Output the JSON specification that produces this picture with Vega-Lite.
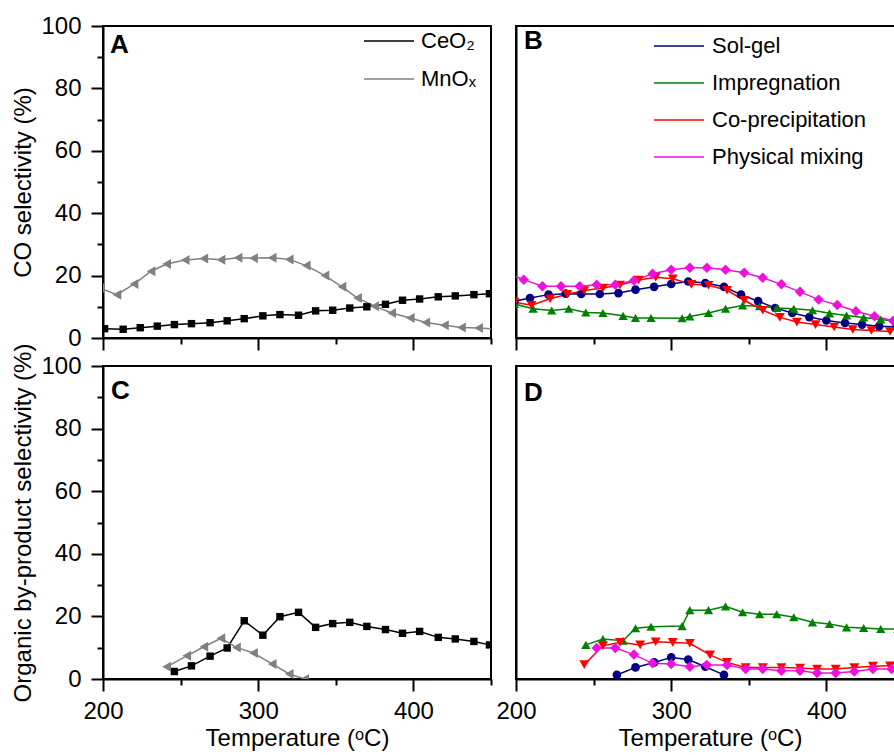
{
  "$schema": "https://vega.github.io/schema/vega-lite/v6.json",
  "padding": {"left": 10, "top": 13, "right": 0, "bottom": 0},
  "background": "white",
  "columns": 2,
  "spacing": {"row": 28, "column": 25},
  "bounds": "flush",
  "resolve": {
    "scale": {"color": "independent", "stroke": "independent", "shape": "independent", "size": "independent"},
    "legend": {"color": "independent", "stroke": "independent", "shape": "independent", "size": "independent"}
  },
  "datasets": {
    "sel": [
      {"panel": "A", "series": "CeO₂", "temp": 201, "sel": 3.0},
      {"panel": "A", "series": "CeO₂", "temp": 213, "sel": 2.8},
      {"panel": "A", "series": "CeO₂", "temp": 224, "sel": 3.3},
      {"panel": "A", "series": "CeO₂", "temp": 235, "sel": 3.8},
      {"panel": "A", "series": "CeO₂", "temp": 246, "sel": 4.3},
      {"panel": "A", "series": "CeO₂", "temp": 257, "sel": 4.6},
      {"panel": "A", "series": "CeO₂", "temp": 269, "sel": 4.9},
      {"panel": "A", "series": "CeO₂", "temp": 280, "sel": 5.5},
      {"panel": "A", "series": "CeO₂", "temp": 291, "sel": 6.2},
      {"panel": "A", "series": "CeO₂", "temp": 303, "sel": 7.1},
      {"panel": "A", "series": "CeO₂", "temp": 314, "sel": 7.5},
      {"panel": "A", "series": "CeO₂", "temp": 326, "sel": 7.3},
      {"panel": "A", "series": "CeO₂", "temp": 337, "sel": 8.7},
      {"panel": "A", "series": "CeO₂", "temp": 348, "sel": 8.9},
      {"panel": "A", "series": "CeO₂", "temp": 359, "sel": 9.6},
      {"panel": "A", "series": "CeO₂", "temp": 370, "sel": 10.0},
      {"panel": "A", "series": "CeO₂", "temp": 382, "sel": 10.8},
      {"panel": "A", "series": "CeO₂", "temp": 393, "sel": 12.1},
      {"panel": "A", "series": "CeO₂", "temp": 404, "sel": 12.5},
      {"panel": "A", "series": "CeO₂", "temp": 416, "sel": 13.2},
      {"panel": "A", "series": "CeO₂", "temp": 427, "sel": 13.5},
      {"panel": "A", "series": "CeO₂", "temp": 439, "sel": 13.9},
      {"panel": "A", "series": "CeO₂", "temp": 449, "sel": 14.2},
      {"panel": "A", "series": "MnOₓ", "temp": 198, "sel": 16.0},
      {"panel": "A", "series": "MnOₓ", "temp": 209, "sel": 13.9},
      {"panel": "A", "series": "MnOₓ", "temp": 220, "sel": 17.3},
      {"panel": "A", "series": "MnOₓ", "temp": 231, "sel": 21.4},
      {"panel": "A", "series": "MnOₓ", "temp": 241, "sel": 23.7},
      {"panel": "A", "series": "MnOₓ", "temp": 253, "sel": 25.0},
      {"panel": "A", "series": "MnOₓ", "temp": 265, "sel": 25.5},
      {"panel": "A", "series": "MnOₓ", "temp": 276, "sel": 25.1},
      {"panel": "A", "series": "MnOₓ", "temp": 287, "sel": 25.7},
      {"panel": "A", "series": "MnOₓ", "temp": 297, "sel": 25.6},
      {"panel": "A", "series": "MnOₓ", "temp": 309, "sel": 25.7},
      {"panel": "A", "series": "MnOₓ", "temp": 320, "sel": 25.2},
      {"panel": "A", "series": "MnOₓ", "temp": 331, "sel": 23.2},
      {"panel": "A", "series": "MnOₓ", "temp": 343, "sel": 20.0},
      {"panel": "A", "series": "MnOₓ", "temp": 354, "sel": 16.4},
      {"panel": "A", "series": "MnOₓ", "temp": 364, "sel": 12.8},
      {"panel": "A", "series": "MnOₓ", "temp": 375, "sel": 10.2},
      {"panel": "A", "series": "MnOₓ", "temp": 386, "sel": 8.0},
      {"panel": "A", "series": "MnOₓ", "temp": 398, "sel": 6.4},
      {"panel": "A", "series": "MnOₓ", "temp": 408, "sel": 5.0},
      {"panel": "A", "series": "MnOₓ", "temp": 420, "sel": 4.1},
      {"panel": "A", "series": "MnOₓ", "temp": 431, "sel": 3.4},
      {"panel": "A", "series": "MnOₓ", "temp": 442, "sel": 3.2},
      {"panel": "A", "series": "MnOₓ", "temp": 452, "sel": 2.9},

      {"panel": "B", "series": "Sol-gel", "temp": 199, "sel": 11.8},
      {"panel": "B", "series": "Sol-gel", "temp": 209, "sel": 12.8},
      {"panel": "B", "series": "Sol-gel", "temp": 221, "sel": 13.9},
      {"panel": "B", "series": "Sol-gel", "temp": 232, "sel": 14.2},
      {"panel": "B", "series": "Sol-gel", "temp": 242, "sel": 14.1},
      {"panel": "B", "series": "Sol-gel", "temp": 254, "sel": 14.1},
      {"panel": "B", "series": "Sol-gel", "temp": 266, "sel": 14.4},
      {"panel": "B", "series": "Sol-gel", "temp": 277, "sel": 15.5},
      {"panel": "B", "series": "Sol-gel", "temp": 289, "sel": 16.4},
      {"panel": "B", "series": "Sol-gel", "temp": 300, "sel": 17.3},
      {"panel": "B", "series": "Sol-gel", "temp": 311, "sel": 18.1},
      {"panel": "B", "series": "Sol-gel", "temp": 322, "sel": 17.6},
      {"panel": "B", "series": "Sol-gel", "temp": 334, "sel": 16.4},
      {"panel": "B", "series": "Sol-gel", "temp": 345, "sel": 13.9},
      {"panel": "B", "series": "Sol-gel", "temp": 356, "sel": 11.8},
      {"panel": "B", "series": "Sol-gel", "temp": 367, "sel": 9.6},
      {"panel": "B", "series": "Sol-gel", "temp": 378, "sel": 8.0},
      {"panel": "B", "series": "Sol-gel", "temp": 389, "sel": 6.7},
      {"panel": "B", "series": "Sol-gel", "temp": 400, "sel": 5.6},
      {"panel": "B", "series": "Sol-gel", "temp": 412, "sel": 4.8},
      {"panel": "B", "series": "Sol-gel", "temp": 423, "sel": 4.3},
      {"panel": "B", "series": "Sol-gel", "temp": 434, "sel": 3.8},
      {"panel": "B", "series": "Sol-gel", "temp": 445, "sel": 3.6},
      {"panel": "B", "series": "Impregnation", "temp": 199, "sel": 10.9},
      {"panel": "B", "series": "Impregnation", "temp": 211, "sel": 9.4},
      {"panel": "B", "series": "Impregnation", "temp": 223, "sel": 8.8},
      {"panel": "B", "series": "Impregnation", "temp": 234, "sel": 9.4},
      {"panel": "B", "series": "Impregnation", "temp": 245, "sel": 8.2},
      {"panel": "B", "series": "Impregnation", "temp": 256, "sel": 8.0},
      {"panel": "B", "series": "Impregnation", "temp": 269, "sel": 7.1},
      {"panel": "B", "series": "Impregnation", "temp": 277, "sel": 6.4},
      {"panel": "B", "series": "Impregnation", "temp": 287, "sel": 6.4},
      {"panel": "B", "series": "Impregnation", "temp": 307, "sel": 6.3},
      {"panel": "B", "series": "Impregnation", "temp": 312, "sel": 6.9},
      {"panel": "B", "series": "Impregnation", "temp": 324, "sel": 8.0},
      {"panel": "B", "series": "Impregnation", "temp": 335, "sel": 9.4},
      {"panel": "B", "series": "Impregnation", "temp": 346, "sel": 10.4},
      {"panel": "B", "series": "Impregnation", "temp": 357, "sel": 10.2},
      {"panel": "B", "series": "Impregnation", "temp": 368, "sel": 9.6},
      {"panel": "B", "series": "Impregnation", "temp": 379, "sel": 9.4},
      {"panel": "B", "series": "Impregnation", "temp": 391, "sel": 8.9},
      {"panel": "B", "series": "Impregnation", "temp": 402, "sel": 7.9},
      {"panel": "B", "series": "Impregnation", "temp": 413, "sel": 7.2},
      {"panel": "B", "series": "Impregnation", "temp": 424, "sel": 6.6},
      {"panel": "B", "series": "Impregnation", "temp": 435, "sel": 5.9},
      {"panel": "B", "series": "Impregnation", "temp": 446, "sel": 5.3},
      {"panel": "B", "series": "Co-precipitation", "temp": 199, "sel": 11.5},
      {"panel": "B", "series": "Co-precipitation", "temp": 210, "sel": 10.5},
      {"panel": "B", "series": "Co-precipitation", "temp": 222, "sel": 12.6},
      {"panel": "B", "series": "Co-precipitation", "temp": 233, "sel": 14.0},
      {"panel": "B", "series": "Co-precipitation", "temp": 244, "sel": 15.2},
      {"panel": "B", "series": "Co-precipitation", "temp": 256, "sel": 16.0},
      {"panel": "B", "series": "Co-precipitation", "temp": 267, "sel": 17.0},
      {"panel": "B", "series": "Co-precipitation", "temp": 279, "sel": 18.6},
      {"panel": "B", "series": "Co-precipitation", "temp": 290, "sel": 19.5},
      {"panel": "B", "series": "Co-precipitation", "temp": 301, "sel": 19.0},
      {"panel": "B", "series": "Co-precipitation", "temp": 313, "sel": 17.2},
      {"panel": "B", "series": "Co-precipitation", "temp": 324, "sel": 16.9},
      {"panel": "B", "series": "Co-precipitation", "temp": 336, "sel": 15.3},
      {"panel": "B", "series": "Co-precipitation", "temp": 347, "sel": 12.1},
      {"panel": "B", "series": "Co-precipitation", "temp": 359, "sel": 8.9},
      {"panel": "B", "series": "Co-precipitation", "temp": 370, "sel": 6.6},
      {"panel": "B", "series": "Co-precipitation", "temp": 381, "sel": 5.1},
      {"panel": "B", "series": "Co-precipitation", "temp": 393, "sel": 4.3},
      {"panel": "B", "series": "Co-precipitation", "temp": 405, "sel": 3.5},
      {"panel": "B", "series": "Co-precipitation", "temp": 417, "sel": 2.7},
      {"panel": "B", "series": "Co-precipitation", "temp": 429, "sel": 2.4},
      {"panel": "B", "series": "Co-precipitation", "temp": 441, "sel": 2.1},
      {"panel": "B", "series": "Physical mixing", "temp": 193, "sel": 21.0},
      {"panel": "B", "series": "Physical mixing", "temp": 205, "sel": 18.7},
      {"panel": "B", "series": "Physical mixing", "temp": 217, "sel": 16.6},
      {"panel": "B", "series": "Physical mixing", "temp": 229, "sel": 16.6},
      {"panel": "B", "series": "Physical mixing", "temp": 241, "sel": 16.6},
      {"panel": "B", "series": "Physical mixing", "temp": 252, "sel": 17.1},
      {"panel": "B", "series": "Physical mixing", "temp": 264, "sel": 17.1},
      {"panel": "B", "series": "Physical mixing", "temp": 276, "sel": 18.4},
      {"panel": "B", "series": "Physical mixing", "temp": 288, "sel": 20.6},
      {"panel": "B", "series": "Physical mixing", "temp": 300, "sel": 21.9},
      {"panel": "B", "series": "Physical mixing", "temp": 312, "sel": 22.5},
      {"panel": "B", "series": "Physical mixing", "temp": 323, "sel": 22.5},
      {"panel": "B", "series": "Physical mixing", "temp": 335, "sel": 21.9},
      {"panel": "B", "series": "Physical mixing", "temp": 347, "sel": 20.9},
      {"panel": "B", "series": "Physical mixing", "temp": 359, "sel": 19.3},
      {"panel": "B", "series": "Physical mixing", "temp": 371, "sel": 17.2},
      {"panel": "B", "series": "Physical mixing", "temp": 383, "sel": 14.8},
      {"panel": "B", "series": "Physical mixing", "temp": 395, "sel": 12.3},
      {"panel": "B", "series": "Physical mixing", "temp": 407, "sel": 10.6},
      {"panel": "B", "series": "Physical mixing", "temp": 419, "sel": 8.6},
      {"panel": "B", "series": "Physical mixing", "temp": 431, "sel": 7.0},
      {"panel": "B", "series": "Physical mixing", "temp": 443, "sel": 5.5},

      {"panel": "C", "series": "CeO₂", "temp": 246, "sel": 2.4},
      {"panel": "C", "series": "CeO₂", "temp": 257, "sel": 4.2},
      {"panel": "C", "series": "CeO₂", "temp": 269, "sel": 7.3},
      {"panel": "C", "series": "CeO₂", "temp": 280, "sel": 9.9},
      {"panel": "C", "series": "CeO₂", "temp": 291, "sel": 18.6},
      {"panel": "C", "series": "CeO₂", "temp": 303, "sel": 14.0},
      {"panel": "C", "series": "CeO₂", "temp": 314, "sel": 19.9},
      {"panel": "C", "series": "CeO₂", "temp": 326, "sel": 21.3},
      {"panel": "C", "series": "CeO₂", "temp": 337, "sel": 16.5},
      {"panel": "C", "series": "CeO₂", "temp": 348, "sel": 17.7},
      {"panel": "C", "series": "CeO₂", "temp": 359, "sel": 18.1},
      {"panel": "C", "series": "CeO₂", "temp": 370, "sel": 16.8},
      {"panel": "C", "series": "CeO₂", "temp": 382, "sel": 15.8},
      {"panel": "C", "series": "CeO₂", "temp": 393, "sel": 14.6},
      {"panel": "C", "series": "CeO₂", "temp": 404, "sel": 15.2},
      {"panel": "C", "series": "CeO₂", "temp": 416, "sel": 13.3},
      {"panel": "C", "series": "CeO₂", "temp": 427, "sel": 12.8},
      {"panel": "C", "series": "CeO₂", "temp": 439, "sel": 12.0},
      {"panel": "C", "series": "CeO₂", "temp": 449, "sel": 10.9},
      {"panel": "C", "series": "MnOₓ", "temp": 241, "sel": 3.9},
      {"panel": "C", "series": "MnOₓ", "temp": 254, "sel": 7.4},
      {"panel": "C", "series": "MnOₓ", "temp": 265, "sel": 10.3},
      {"panel": "C", "series": "MnOₓ", "temp": 276, "sel": 13.0},
      {"panel": "C", "series": "MnOₓ", "temp": 286, "sel": 10.1},
      {"panel": "C", "series": "MnOₓ", "temp": 297, "sel": 8.3},
      {"panel": "C", "series": "MnOₓ", "temp": 309, "sel": 4.8},
      {"panel": "C", "series": "MnOₓ", "temp": 320, "sel": 1.6},
      {"panel": "C", "series": "MnOₓ", "temp": 330, "sel": 0.0},

      {"panel": "D", "series": "Sol-gel", "temp": 265, "sel": 1.3},
      {"panel": "D", "series": "Sol-gel", "temp": 277, "sel": 3.7},
      {"panel": "D", "series": "Sol-gel", "temp": 289, "sel": 5.3},
      {"panel": "D", "series": "Sol-gel", "temp": 300, "sel": 6.9},
      {"panel": "D", "series": "Sol-gel", "temp": 311, "sel": 6.2},
      {"panel": "D", "series": "Sol-gel", "temp": 322, "sel": 3.9},
      {"panel": "D", "series": "Sol-gel", "temp": 334, "sel": 1.3},
      {"panel": "D", "series": "Impregnation", "temp": 245, "sel": 10.9},
      {"panel": "D", "series": "Impregnation", "temp": 256, "sel": 12.8},
      {"panel": "D", "series": "Impregnation", "temp": 269, "sel": 12.2},
      {"panel": "D", "series": "Impregnation", "temp": 277, "sel": 16.2},
      {"panel": "D", "series": "Impregnation", "temp": 287, "sel": 16.7},
      {"panel": "D", "series": "Impregnation", "temp": 307, "sel": 16.9},
      {"panel": "D", "series": "Impregnation", "temp": 312, "sel": 22.0},
      {"panel": "D", "series": "Impregnation", "temp": 324, "sel": 22.0},
      {"panel": "D", "series": "Impregnation", "temp": 335, "sel": 23.2},
      {"panel": "D", "series": "Impregnation", "temp": 346, "sel": 21.3},
      {"panel": "D", "series": "Impregnation", "temp": 357, "sel": 20.7},
      {"panel": "D", "series": "Impregnation", "temp": 368, "sel": 20.7},
      {"panel": "D", "series": "Impregnation", "temp": 379, "sel": 19.7},
      {"panel": "D", "series": "Impregnation", "temp": 391, "sel": 18.1},
      {"panel": "D", "series": "Impregnation", "temp": 402, "sel": 17.6},
      {"panel": "D", "series": "Impregnation", "temp": 413, "sel": 16.5},
      {"panel": "D", "series": "Impregnation", "temp": 424, "sel": 16.3},
      {"panel": "D", "series": "Impregnation", "temp": 435, "sel": 16.0},
      {"panel": "D", "series": "Impregnation", "temp": 446, "sel": 16.0},
      {"panel": "D", "series": "Co-precipitation", "temp": 244, "sel": 4.6},
      {"panel": "D", "series": "Co-precipitation", "temp": 256, "sel": 10.6},
      {"panel": "D", "series": "Co-precipitation", "temp": 267, "sel": 11.7},
      {"panel": "D", "series": "Co-precipitation", "temp": 280, "sel": 10.9},
      {"panel": "D", "series": "Co-precipitation", "temp": 290, "sel": 11.9},
      {"panel": "D", "series": "Co-precipitation", "temp": 301, "sel": 11.7},
      {"panel": "D", "series": "Co-precipitation", "temp": 312, "sel": 11.4},
      {"panel": "D", "series": "Co-precipitation", "temp": 325, "sel": 7.7},
      {"panel": "D", "series": "Co-precipitation", "temp": 336, "sel": 5.3},
      {"panel": "D", "series": "Co-precipitation", "temp": 348, "sel": 3.7},
      {"panel": "D", "series": "Co-precipitation", "temp": 359, "sel": 3.7},
      {"panel": "D", "series": "Co-precipitation", "temp": 371, "sel": 3.7},
      {"panel": "D", "series": "Co-precipitation", "temp": 383, "sel": 3.5},
      {"panel": "D", "series": "Co-precipitation", "temp": 394, "sel": 3.2},
      {"panel": "D", "series": "Co-precipitation", "temp": 406, "sel": 3.2},
      {"panel": "D", "series": "Co-precipitation", "temp": 418, "sel": 3.7},
      {"panel": "D", "series": "Co-precipitation", "temp": 430, "sel": 4.1},
      {"panel": "D", "series": "Co-precipitation", "temp": 441, "sel": 4.2},
      {"panel": "D", "series": "Physical mixing", "temp": 252, "sel": 9.9},
      {"panel": "D", "series": "Physical mixing", "temp": 264, "sel": 9.9},
      {"panel": "D", "series": "Physical mixing", "temp": 276, "sel": 7.8},
      {"panel": "D", "series": "Physical mixing", "temp": 288, "sel": 5.0},
      {"panel": "D", "series": "Physical mixing", "temp": 300, "sel": 4.8},
      {"panel": "D", "series": "Physical mixing", "temp": 312, "sel": 3.9},
      {"panel": "D", "series": "Physical mixing", "temp": 323, "sel": 4.5},
      {"panel": "D", "series": "Physical mixing", "temp": 336, "sel": 4.5},
      {"panel": "D", "series": "Physical mixing", "temp": 348, "sel": 3.2},
      {"panel": "D", "series": "Physical mixing", "temp": 359, "sel": 3.2},
      {"panel": "D", "series": "Physical mixing", "temp": 371, "sel": 2.6},
      {"panel": "D", "series": "Physical mixing", "temp": 383, "sel": 2.6},
      {"panel": "D", "series": "Physical mixing", "temp": 394, "sel": 1.9},
      {"panel": "D", "series": "Physical mixing", "temp": 406, "sel": 1.9},
      {"panel": "D", "series": "Physical mixing", "temp": 418, "sel": 2.4},
      {"panel": "D", "series": "Physical mixing", "temp": 430, "sel": 3.2},
      {"panel": "D", "series": "Physical mixing", "temp": 442, "sel": 3.2}
    ]
  },
  "concat": [
    {
      "width": 388, "height": 312,
      "title": {"text": "A", "anchor": "start", "frame": "group", "offset": -44, "dx": 7, "fontSize": 26, "fontWeight": "bold", "color": "#000"},
      "data": {"name": "sel"},
      "transform": [{"filter": "datum.panel === 'A'"}],
      "encoding": {
        "x": {"field": "temp", "type": "quantitative", "scale": {"domain": [200, 450], "nice": false, "zero": false},
          "axis": {"values": [200, 250, 300, 350, 400, 450], "labels": false, "title": null,
            "tickSize": {"condition": {"test": "datum.value % 100 === 0", "value": 12}, "value": 6}}},
        "y": {"field": "sel", "type": "quantitative", "scale": {"domain": [0, 100], "nice": false},
          "axis": {"values": [0, 10, 20, 30, 40, 50, 60, 70, 80, 90, 100], "labelExpr": "datum.value % 20 === 0 ? datum.label : ''", "title": "CO selectivity (%)",
            "tickSize": {"condition": {"test": "datum.value % 20 === 0", "value": 12}, "value": 6}}}
      },
      "layer": [
        {"mark": {"type": "line", "clip": true, "strokeWidth": 1.5},
          "encoding": {
            "stroke": {"field": "series", "type": "nominal", "scale": {"domain": ["MnOₓ", "CeO₂"], "range": ["#808080", "#000000"]},
              "legend": {"values": ["CeO₂", "MnOₓ"], "orient": "none", "legendX": 260, "legendY": -11, "title": null, "padding": 0, "rowPadding": 1,
                "labelFontSize": 22, "labelColor": "#000", "symbolType": "stroke", "symbolSize": 2500, "symbolStrokeWidth": 1.5, "labelOffset": 6}}}},
        {"mark": {"type": "point", "filled": true, "clip": true, "opacity": 1},
          "encoding": {
            "color": {"field": "series", "type": "nominal", "scale": {"domain": ["CeO₂", "MnOₓ"], "range": ["#000000", "#808080"]}, "legend": null},
            "shape": {"field": "series", "type": "nominal", "scale": {"domain": ["CeO₂", "MnOₓ"], "range": ["square", "triangle-left"]},
              "legend": {"orient": "none", "legendX": 260, "legendY": -11, "title": null, "padding": 0, "rowPadding": 1,
                "labelFontSize": 22, "labelOpacity": 0, "symbolSize": 100, "symbolOffset": 20, "symbolStrokeWidth": 0}},
            "size": {"field": "series", "type": "nominal", "scale": {"domain": ["CeO₂", "MnOₓ"], "range": [55, 100]}, "legend": null}}}
      ]
    },
    {
      "width": 388, "height": 312,
      "title": {"text": "B", "anchor": "start", "frame": "group", "offset": -34, "dx": 8, "fontSize": 26, "fontWeight": "bold", "color": "#000"},
      "data": {"name": "sel"},
      "transform": [{"filter": "datum.panel === 'B'"}],
      "encoding": {
        "x": {"field": "temp", "type": "quantitative", "scale": {"domain": [200, 450], "nice": false, "zero": false},
          "axis": {"values": [200, 250, 300, 350, 400, 450], "labels": false, "title": null,
            "tickSize": {"condition": {"test": "datum.value % 100 === 0", "value": 12}, "value": 6}}},
        "y": {"field": "sel", "type": "quantitative", "scale": {"domain": [0, 100], "nice": false},
          "axis": {"labels": false, "ticks": false, "title": null}}
      },
      "layer": [
        {"mark": {"type": "line", "clip": true, "strokeWidth": 1.5},
          "encoding": {
            "stroke": {"field": "series", "type": "nominal",
              "scale": {"domain": ["Physical mixing", "Co-precipitation", "Impregnation", "Sol-gel"], "range": ["#EE11DD", "#FF0000", "#008000", "#000080"]},
              "legend": {"values": ["Sol-gel", "Impregnation", "Co-precipitation", "Physical mixing"], "orient": "none", "legendX": 137, "legendY": -6, "title": null, "padding": 0, "rowPadding": -9,
                "labelFontSize": 22, "labelColor": "#000", "symbolType": "stroke", "symbolSize": 2500, "symbolStrokeWidth": 1.5, "labelOffset": 7}}}},
        {"mark": {"type": "point", "filled": true, "clip": true, "opacity": 1},
          "encoding": {
            "color": {"field": "series", "type": "nominal",
              "scale": {"domain": ["Sol-gel", "Impregnation", "Co-precipitation", "Physical mixing"], "range": ["#000080", "#008000", "#FF0000", "#EE11DD"]}, "legend": null},
            "shape": {"field": "series", "type": "nominal", "scale": {"domain": ["Sol-gel", "Impregnation", "Co-precipitation", "Physical mixing"], "range": ["circle", "triangle-up", "triangle-down", "diamond"]},
              "legend": {"orient": "none", "legendX": 137, "legendY": -6, "title": null, "padding": 0, "rowPadding": -9,
                "labelFontSize": 22, "labelOpacity": 0, "symbolSize": 100, "symbolOffset": 20, "symbolStrokeWidth": 0}},
            "size": {"field": "series", "type": "nominal", "scale": {"domain": ["Sol-gel", "Impregnation", "Co-precipitation", "Physical mixing"], "range": [75, 110, 110, 130]}, "legend": null}}}
      ]
    },
    {
      "width": 388, "height": 313,
      "title": {"text": "C", "anchor": "start", "frame": "group", "offset": -61, "dx": 8, "fontSize": 26, "fontWeight": "bold", "color": "#000"},
      "data": {"name": "sel"},
      "transform": [{"filter": "datum.panel === 'C'"}],
      "encoding": {
        "x": {"field": "temp", "type": "quantitative", "scale": {"domain": [200, 450], "nice": false, "zero": false},
          "axis": {"values": [200, 250, 300, 350, 400, 450], "labelExpr": "datum.value % 100 === 0 ? datum.label : ''", "title": "Temperature (ᵒC)",
            "tickSize": {"condition": {"test": "datum.value % 100 === 0", "value": 12}, "value": 6}}},
        "y": {"field": "sel", "type": "quantitative", "scale": {"domain": [0, 100], "nice": false},
          "axis": {"values": [0, 10, 20, 30, 40, 50, 60, 70, 80, 90, 100], "labelExpr": "datum.value % 20 === 0 ? datum.label : ''", "title": "Organic by-product selectivity (%)",
            "tickSize": {"condition": {"test": "datum.value % 20 === 0", "value": 12}, "value": 6}}},
        "color": {"field": "series", "type": "nominal", "scale": {"domain": ["CeO₂", "MnOₓ"], "range": ["#000000", "#808080"]}, "legend": null}
      },
      "layer": [
        {"mark": {"type": "line", "clip": true, "strokeWidth": 1.5}},
        {"mark": {"type": "point", "filled": true, "clip": true, "opacity": 1},
          "encoding": {
            "shape": {"field": "series", "type": "nominal", "scale": {"domain": ["CeO₂", "MnOₓ"], "range": ["square", "triangle-left"]}, "legend": null},
            "size": {"field": "series", "type": "nominal", "scale": {"domain": ["CeO₂", "MnOₓ"], "range": [55, 100]}, "legend": null}}}
      ]
    },
    {
      "width": 388, "height": 313,
      "title": {"text": "D", "anchor": "start", "frame": "group", "offset": -40, "dx": 8, "fontSize": 26, "fontWeight": "bold", "color": "#000"},
      "data": {"name": "sel"},
      "transform": [{"filter": "datum.panel === 'D'"}],
      "encoding": {
        "x": {"field": "temp", "type": "quantitative", "scale": {"domain": [200, 450], "nice": false, "zero": false},
          "axis": {"values": [200, 250, 300, 350, 400, 450], "labelExpr": "datum.value % 100 === 0 ? datum.label : ''", "title": "Temperature (ᵒC)",
            "tickSize": {"condition": {"test": "datum.value % 100 === 0", "value": 12}, "value": 6}}},
        "y": {"field": "sel", "type": "quantitative", "scale": {"domain": [0, 100], "nice": false},
          "axis": {"labels": false, "ticks": false, "title": null}},
        "color": {"field": "series", "type": "nominal",
          "scale": {"domain": ["Sol-gel", "Impregnation", "Co-precipitation", "Physical mixing"], "range": ["#000080", "#008000", "#FF0000", "#EE11DD"]}, "legend": null}
      },
      "layer": [
        {"mark": {"type": "line", "clip": true, "strokeWidth": 1.5}},
        {"mark": {"type": "point", "filled": true, "clip": true, "opacity": 1},
          "encoding": {
            "shape": {"field": "series", "type": "nominal", "scale": {"domain": ["Sol-gel", "Impregnation", "Co-precipitation", "Physical mixing"], "range": ["circle", "triangle-up", "triangle-down", "diamond"]}, "legend": null},
            "size": {"field": "series", "type": "nominal", "scale": {"domain": ["Sol-gel", "Impregnation", "Co-precipitation", "Physical mixing"], "range": [75, 110, 110, 130]}, "legend": null}}}
      ]
    }
  ],
  "config": {
    "font": "Liberation Sans",
    "view": {"stroke": "#000", "strokeWidth": 2},
    "axis": {"labelFontSize": 24, "titleFontSize": 24, "titleFontWeight": "normal", "labelColor": "#000", "titleColor": "#000",
      "domainColor": "#000", "domainWidth": 2, "tickColor": "#000", "tickWidth": 2, "grid": false,
      "labelOverlap": false, "labelFlush": false, "labelBound": false},
    "axisX": {"labelPadding": 8, "titlePadding": 3},
    "axisY": {"labelPadding": 10, "titlePadding": 5},
    "legend": {"labelFont": "Liberation Sans"}
  }
}
